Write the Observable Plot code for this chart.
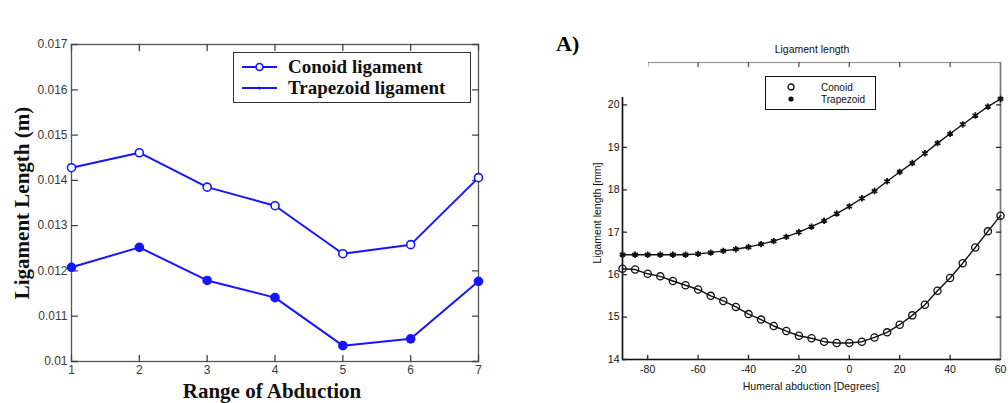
<!DOCTYPE html>
<html><head><meta charset="utf-8">
<script src="https://cdn.jsdelivr.net/npm/d3@7"></script>
<script src="https://cdn.jsdelivr.net/npm/@observablehq/plot@0.6"></script>
<style>
body{margin:0;background:#fff;width:1008px;height:403px;overflow:hidden;position:relative;font-family:"Liberation Sans",Arial,sans-serif}
.abs{position:absolute;white-space:nowrap}
.ctr{transform:translate(-50%,-50%)}
.rot{transform:translate(-50%,-50%) rotate(-90deg)}
.serif{font-family:"Liberation Serif","Times New Roman",serif;font-weight:bold;color:#111}
.leg1{position:absolute;border:1.5px solid #333;background:#fff}
.leg2{position:absolute;border:1.5px solid #111;background:#fff}
</style></head><body>
<div id="left" class="abs" style="left:0;top:0"></div>
<div id="right" class="abs" style="left:540px;top:0"></div>
<div id="overlay"></div>
<script>
// ---- Left chart data ----
const rangeSteps = [1, 2, 3, 4, 5, 6, 7];
const conoidLeft = [0.01428, 0.01461, 0.01385, 0.01344, 0.01238, 0.01258, 0.01406];
const trapezoidLeft = [0.01208, 0.01252, 0.01179, 0.01141, 0.01035, 0.0105, 0.01177];
const leftYTicks = [0.01, 0.011, 0.012, 0.013, 0.014, 0.015, 0.016, 0.017];
const leftXDomain = [1, 7];
const leftYDomain = [0.01, 0.017];
const leftSeriesNames = ["Conoid ligament", "Trapezoid ligament"];
const leftXLabel = "Range of Abduction";
const leftYLabel = "Ligament Length (m)";

// ---- Right chart data ----
const abductionDeg = [-90, -85, -80, -75, -70, -65, -60, -55, -50, -45, -40, -35, -30, -25, -20, -15, -10, -5, 0, 5, 10, 15, 20, 25, 30, 35, 40, 45, 50, 55, 60];
const conoidRight = [16.14, 16.12, 16.02, 15.96, 15.85, 15.75, 15.65, 15.50, 15.38, 15.24, 15.07, 14.94, 14.79, 14.67, 14.56, 14.50, 14.42, 14.39, 14.39, 14.42, 14.52, 14.64, 14.82, 15.04, 15.29, 15.62, 15.92, 16.27, 16.64, 17.02, 17.39];
const trapezoidRight = [16.47, 16.47, 16.47, 16.47, 16.47, 16.47, 16.49, 16.52, 16.56, 16.60, 16.65, 16.72, 16.79, 16.89, 17.00, 17.13, 17.27, 17.44, 17.61, 17.80, 17.97, 18.20, 18.42, 18.63, 18.86, 19.10, 19.32, 19.54, 19.75, 19.96, 20.14];
const rightXTicks = [-80, -60, -40, -20, 0, 20, 40, 60];
const rightXTickMarks = [-80, -60, -40, -20, 0, 20, 40];
const rightYTicks = [14, 15, 16, 17, 18, 19, 20];
const rightXDomain = [-90, 60];
const rightYDomain = [14, 21];
const rightSeriesNames = ["Conoid", "Trapezoid"];
const rightTitle = "Ligament length";
const rightXLabel = "Humeral abduction [Degrees]";
const rightYLabel = "Ligament length [mm]";
const panelLabel = "A)";

const BLUE = "#1515ff";

const conoidL = rangeSteps.map((x, i) => ({x, y: conoidLeft[i]}));
const trapL = rangeSteps.map((x, i) => ({x, y: trapezoidLeft[i]}));
const conoidR = abductionDeg.map((x, i) => ({x, y: conoidRight[i]}));
const trapR = abductionDeg.map((x, i) => ({x, y: trapezoidRight[i]}));

const fmtL = d => String(+d.toFixed(3));

const tickShape = {draw(context, l) { context.moveTo(0, 0); context.lineTo(0, -l); }};

// inward tick marks (MATLAB style)
function innerTicks(xd, yd, xt, yt, len, stroke, sw, sides) {
  const out = [];
  const opt = {length: len, shape: tickShape, anchor: "start", stroke, strokeWidth: sw};
  if (sides.includes("l")) out.push(Plot.vector(yt, {x: () => xd[0], y: d => d, rotate: 90, ...opt}));
  if (sides.includes("r")) out.push(Plot.vector(yt, {x: () => xd[1], y: d => d, rotate: -90, ...opt}));
  if (sides.includes("b")) out.push(Plot.vector(xt, {x: d => d, y: () => yd[0], rotate: 0, ...opt}));
  if (sides.includes("t")) out.push(Plot.vector(xt, {x: d => d, y: () => yd[1], rotate: 180, ...opt}));
  return out;
}

const leftPlot = Plot.plot({
  width: 500, height: 403,
  marginLeft: 71, marginRight: 22, marginTop: 44, marginBottom: 42,
  x: {domain: leftXDomain},
  y: {domain: leftYDomain},
  style: {fontFamily: "Liberation Sans, Arial, sans-serif", fontSize: "12px", color: "#333", background: "transparent"},
  marks: [
    Plot.frame({stroke: "#555", strokeWidth: 1.3}),
    ...innerTicks(leftXDomain, leftYDomain, rangeSteps, leftYTicks, 6, "#444", 1.3, "lrbt"),
    Plot.axisY({anchor: "left", ticks: leftYTicks, tickSize: 0, tickPadding: 4, tickFormat: fmtL, label: null, fill: "#3a3a3a"}),
    Plot.axisX({anchor: "bottom", ticks: rangeSteps, tickSize: 0, tickPadding: 4, tickFormat: d => String(d), label: null, fill: "#3a3a3a"}),
    Plot.line(conoidL, {x: "x", y: "y", stroke: BLUE, strokeWidth: 2}),
    Plot.line(trapL, {x: "x", y: "y", stroke: BLUE, strokeWidth: 2}),
    Plot.dot(conoidL, {x: "x", y: "y", r: 4, stroke: BLUE, fill: "white", strokeWidth: 1.6}),
    Plot.dot(trapL, {x: "x", y: "y", r: 4.8, fill: BLUE, stroke: "none"})
  ]
});
document.getElementById("left").appendChild(leftPlot);

const rightPlot = Plot.plot({
  width: 468, height: 403,
  marginLeft: 82, marginRight: 8, marginTop: 62, marginBottom: 44,
  x: {domain: rightXDomain},
  y: {domain: rightYDomain},
  style: {fontFamily: "Liberation Sans, Arial, sans-serif", fontSize: "10.5px", color: "#111", background: "transparent"},
  marks: [
    Plot.frame({stroke: "#999", strokeWidth: 1.2}),
    Plot.ruleX([rightXDomain[0]], {stroke: "#111", strokeWidth: 1.6}),
    Plot.ruleY([rightYDomain[0]], {stroke: "#111", strokeWidth: 1.6}),
    Plot.ruleX([rightXDomain[1]], {stroke: "#777", strokeWidth: 1.6}),
    ...innerTicks(rightXDomain, rightYDomain, rightXTickMarks, rightYTicks, 4, "#222", 1.3, "lrb"),
    ...innerTicks(rightXDomain, rightYDomain, rightXTickMarks, rightYTicks, 4, "#555", 1.3, "t"),
    Plot.axisY({anchor: "left", ticks: rightYTicks, tickSize: 0, tickPadding: 3, tickFormat: d => String(d), label: null, fill: "#111"}),
    Plot.axisX({anchor: "bottom", ticks: rightXTicks, tickSize: 0, tickPadding: 6, tickFormat: d => String(d), label: null, fill: "#111"}),
    Plot.line(conoidR, {x: "x", y: "y", stroke: "#111", strokeWidth: 1.4}),
    Plot.line(trapR, {x: "x", y: "y", stroke: "#111", strokeWidth: 1.4}),
    Plot.dot(conoidR, {x: "x", y: "y", r: 3.6, stroke: "#111", fill: "none", strokeWidth: 1.3}),
    Plot.dot(trapR, {x: "x", y: "y", r: 3, symbol: "asterisk", stroke: "#111", strokeWidth: 1.8})
  ]
});
document.getElementById("right").appendChild(rightPlot);

// ---- overlay texts & legends ----
const ov = document.getElementById("overlay");
function add(html) { ov.insertAdjacentHTML("beforeend", html); }

add(`<div class="abs rot serif" style="left:22px;top:203px;font-size:21px">${leftYLabel}</div>`);
add(`<div class="abs ctr serif" style="left:272px;top:391px;font-size:21px">${leftXLabel}</div>`);

add(`<div class="leg1" style="left:233px;top:52px;width:236px;height:49px">
  <svg class="abs" style="left:8px;top:5px" width="36" height="42">
    <line x1="0" y1="9" x2="35" y2="9" stroke="${BLUE}" stroke-width="2"/>
    <circle cx="17.5" cy="9" r="3.5" stroke="${BLUE}" fill="white" stroke-width="1.6"/>
    <line x1="0" y1="30" x2="35" y2="30" stroke="${BLUE}" stroke-width="2"/>
    <circle cx="17.5" cy="30" r="1.5" fill="${BLUE}"/>
  </svg>
  <div class="abs serif" style="left:54px;top:14px;transform:translateY(-50%);font-size:19px">${leftSeriesNames[0]}</div>
  <div class="abs serif" style="left:54px;top:35px;transform:translateY(-50%);font-size:19px">${leftSeriesNames[1]}</div>
</div>`);

// white patch occluding the top-left of the right chart (as in the scan)
add(`<div class="abs" style="left:573px;top:48px;width:75px;height:49px;background:#fff"></div>`);
add(`<div class="abs serif" style="left:556px;top:31px;font-size:22px;color:#000">${panelLabel}</div>`);
add(`<div class="abs ctr" style="left:812px;top:49px;font-size:10.5px;color:#111">${rightTitle}</div>`);
add(`<div class="abs rot" style="left:597px;top:213px;font-size:10.5px;color:#111">${rightYLabel}</div>`);
add(`<div class="abs ctr" style="left:811px;top:386px;font-size:10.5px;color:#111">${rightXLabel}</div>`);

add(`<div class="leg2" style="left:765px;top:76px;width:109px;height:32px">
  <svg class="abs" style="left:18px;top:3px" width="14" height="28">
    <circle cx="7" cy="7" r="3" stroke="#111" fill="none" stroke-width="1.3"/>
    <circle cx="7" cy="19" r="2.6" fill="#111"/>
  </svg>
  <div class="abs" style="left:55px;top:10px;transform:translateY(-50%);font-size:10px;color:#111">${rightSeriesNames[0]}</div>
  <div class="abs" style="left:55px;top:22px;transform:translateY(-50%);font-size:10px;color:#111">${rightSeriesNames[1]}</div>
</div>`);
</script>
</body></html>
